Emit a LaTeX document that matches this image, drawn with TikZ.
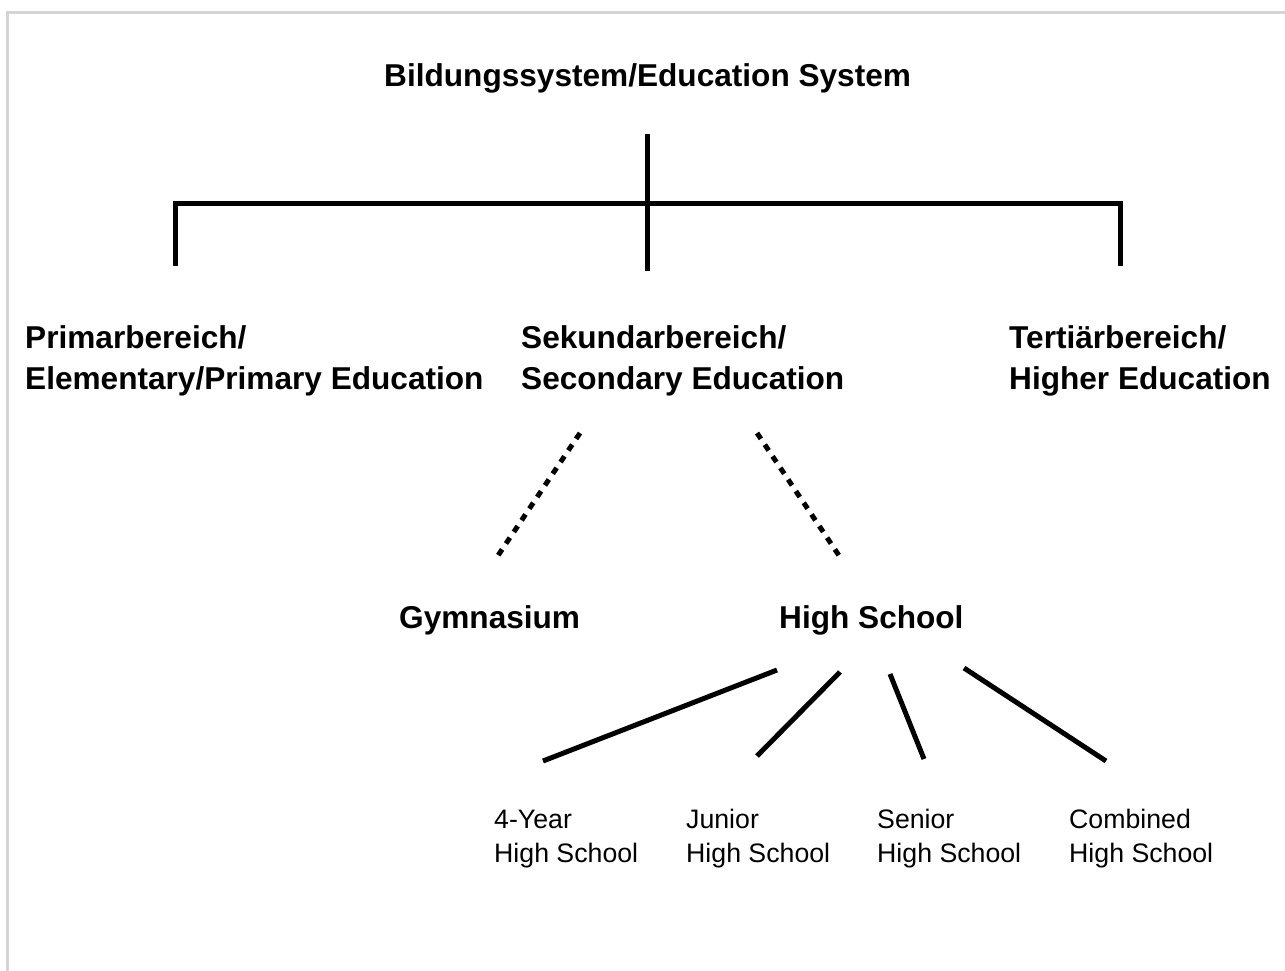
\documentclass[tikz,border=0pt]{standalone}
\usepackage{fontspec}
\setmainfont{Liberation Sans}
\begin{document}
\begin{tikzpicture}[x=1pt,y=-1pt,
  heading/.style={anchor=base west,inner sep=0pt,align=left,
    font=\fontsize{31.6}{41}\selectfont\bfseries},
  leaf/.style={anchor=base west,inner sep=0pt,align=left,
    font=\fontsize{26.7}{34.5}\selectfont},
  branch/.style={line width=5pt,line cap=butt},
  dotbranch/.style={line width=5pt,dash pattern=on 7pt off 7pt},
  frameline/.style={draw=black!17,line width=3pt}]
  \useasboundingbox (0,0) rectangle (1285,970);
  \clip (0,0) rectangle (1285,970);
  \draw[frameline] (7.5,980) -- (7.5,12.5) -- (1295,12.5);

  % labels (multi-line nodes sit on the baseline of their last line)
  \node[heading] (root) at (384,86) {Bildungssystem/Education System};
  \node[heading] (prim) at (25,389) {Primarbereich/\\Elementary/Primary Education};
  \node[heading] (sek)  at (521,389) {Sekundarbereich/\\Secondary Education};
  \node[heading] (tert) at (1009,389) {Tertiärbereich/\\Higher Education};
  \node[heading] (gym)  at (399,628) {Gymnasium};
  \node[heading] (hs)   at (779,628) {High School};
  \node[leaf] (four) at (494,862.5) {4-Year\\High School};
  \node[leaf] (jun)  at (686,862.5) {Junior\\High School};
  \node[leaf] (sen)  at (877,862.5) {Senior\\High School};
  \node[leaf] (comb) at (1069,862.5) {Combined\\High School};

  % bracket under the root
  \coordinate (rootTop) at (647,134);
  \coordinate (rootBot) at (647,271);
  \coordinate (barL) at (175,203);
  \coordinate (barR) at (1120,203);
  \coordinate (primTop) at (175,266);
  \coordinate (tertTop) at (1120,266);
  \draw[branch] (rootTop) -- (rootBot);
  \draw[branch,line join=miter] (primTop) -- (barL) -- (barR) -- (tertTop);

  % secondary split
  \coordinate (sekL) at (580,433);
  \coordinate (gymT) at (495,560);
  \coordinate (sekR) at (757,433);
  \coordinate (hsT)  at (842,560);
  \draw[dotbranch] (sekL) -- (gymT);
  \draw[dotbranch] (sekR) -- (hsT);

  % high school types
  \coordinate (hs1) at (777,670);  \coordinate (four1) at (543,761);
  \coordinate (hs2) at (840,672);  \coordinate (jun1)  at (757,756);
  \coordinate (hs3) at (890,674);  \coordinate (sen1)  at (924,759);
  \coordinate (hs4) at (964,668);  \coordinate (comb1) at (1106,761);
  \draw[branch] (hs1) -- (four1);
  \draw[branch] (hs2) -- (jun1);
  \draw[branch] (hs3) -- (sen1);
  \draw[branch] (hs4) -- (comb1);
\end{tikzpicture}
\end{document}
